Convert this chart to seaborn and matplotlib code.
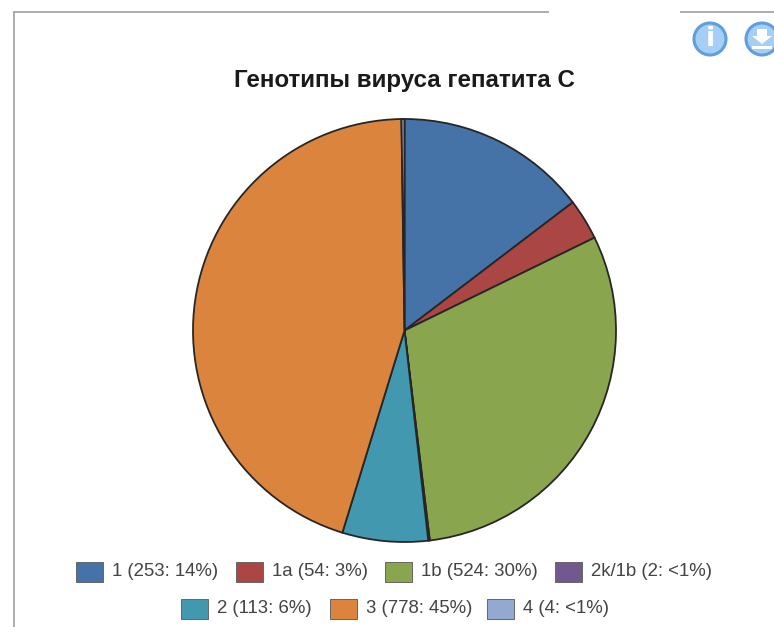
import matplotlib
matplotlib.use("Agg")
import matplotlib.pyplot as plt
from matplotlib.patches import Circle, Rectangle, Polygon
import seaborn as sns

sns.set_theme(style="white")
plt.rcParams['font.family'] = ['Liberation Sans', 'DejaVu Sans']

W, H = 774, 627

genotypes = ["1", "1a", "1b", "2k/1b", "2", "3", "4"]
counts = [253, 54, 524, 2, 113, 778, 4]
share_labels = ["14%", "3%", "30%", "<1%", "6%", "45%", "<1%"]
colors = ["#4572A7", "#AA4643", "#89A54E", "#71588F", "#4198AF", "#DB843D", "#93A9CF"]
title = "Генотипы вируса гепатита С"

fig = plt.figure(figsize=(W / 100, H / 100), dpi=100, facecolor="white")
canvas = fig.add_axes([0, 0, 1, 1])
canvas.set_xlim(0, W)
canvas.set_ylim(H, 0)
canvas.axis("off")

# Panel border, broken along the top where the header gap sits
border = dict(color="#a6a6a6", lw=1.3, solid_capstyle="butt")
canvas.plot([14, 14], [12, H], **border)
canvas.plot([13, 549], [12, 12], **border)
canvas.plot([680, W], [12, 12], **border)

canvas.text(404, 80, title, ha="center", va="center", fontsize=17.4,
            fontweight="bold", color="#1a1a1a")

# Pie, clockwise from twelve o'clock
cx, cy, r = 404.5, 330.5, 211.5
pie_ax = fig.add_axes([(cx - r - 2) / W, 1 - (cy + r + 2) / H, (2 * r + 4) / W, (2 * r + 4) / H])
pie_ax.pie(counts, colors=colors, startangle=90, counterclock=False, radius=r / (r + 2),
           wedgeprops=dict(edgecolor="#262626", linewidth=1.3))
pie_ax.set_xlim(-1, 1)
pie_ax.set_ylim(-1, 1)

# Legend rows, laid out by hand to keep the two centred lines
rows = [
    ([0, 1, 2, 3], [76, 236, 385, 555], 571.5),
    ([4, 5, 6], [181, 330, 487], 608.5),
]
for idxs, xs, y in rows:
    for i, x in zip(idxs, xs):
        canvas.add_patch(Rectangle((x, y - 10), 27, 20, facecolor=colors[i],
                                   edgecolor="#666666", lw=0.7))
        canvas.text(x + 36, y, f"{genotypes[i]} ({counts[i]}: {share_labels[i]})",
                    ha="left", va="center", fontsize=13.4, color="#444444")

# Info and download buttons in the panel corner
for x in (710, 762):
    canvas.add_patch(Circle((x, 39), 16, facecolor="#a5cff6", edgecolor="#5f9fdc", lw=2.2))
canvas.text(710, 39, "i", ha="center", va="center", fontsize=19,
            fontweight="bold", color="white", family=["DejaVu Sans"])
canvas.add_patch(Polygon([(757, 29), (767, 29), (767, 36), (772, 36), (762, 44), (752, 36), (757, 36)],
                         facecolor="white", edgecolor="none"))
canvas.add_patch(Rectangle((752, 46), 20, 3, facecolor="white", edgecolor="none"))

fig.savefig("out.png", dpi=100, facecolor="white")
